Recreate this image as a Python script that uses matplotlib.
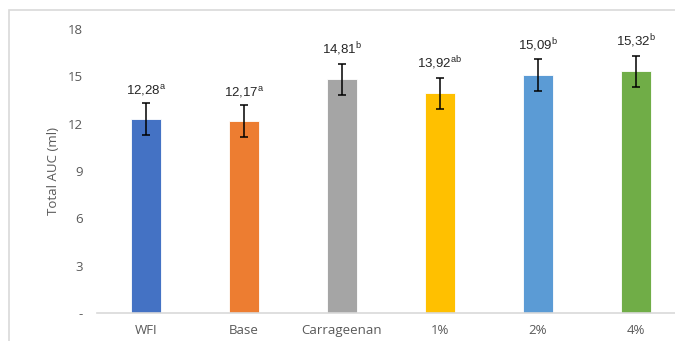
import matplotlib.pyplot as plt
from matplotlib.patches import Rectangle

# Data
groups = ['WFI', 'Base', 'Carrageenan', '1%', '2%', '4%']
auc = [12.28, 12.17, 14.81, 13.92, 15.09, 15.32]
err = [1.0, 1.0, 1.0, 1.0, 1.0, 1.0]
letters = ['a', 'a', 'b', 'ab', 'b', 'b']
colors = ['#4472C4', '#ED7D31', '#A5A5A5', '#FFC000', '#5B9BD5', '#70AD47']
yticks = [0, 3, 6, 9, 12, 15, 18]

plt.rcParams['mathtext.fontset'] = 'custom'
plt.rcParams['mathtext.rm'] = 'Liberation Sans'

fig = plt.figure(figsize=(6.75, 3.41), dpi=100)
ax = fig.add_axes([97 / 675, 28 / 341, 578 / 675, 284 / 341])

x = range(len(groups))
ax.bar(x, auc, width=0.31, color=colors, edgecolor='white', linewidth=0.6, zorder=2)
ax.errorbar(x, auc, yerr=err, fmt='none', ecolor='black', elinewidth=1.1,
            capsize=2.6, capthick=1.1, zorder=3)

# Value labels with significance letters
for i, (v, e, l) in enumerate(zip(auc, err, letters)):
    txt = f"{v:.2f}".replace('.', ',') + r"$^{\mathrm{" + l + "}}$"
    ax.annotate(txt, (i, v + e), xytext=(0, 4), textcoords='offset points',
                ha='center', va='bottom', fontsize=9.5, color='#262626',
                family='Liberation Sans')

ax.set_xlim(-0.5, 5.398)
ax.set_ylim(0, 18)
ax.set_xticks(list(x))
ax.set_xticklabels(groups, fontsize=9.5, color='#595959', family='Open Sans')
ax.set_yticks(yticks)
ax.set_yticklabels(['-' if t == 0 else str(t) for t in yticks], fontsize=9.5,
                   color='#595959', family='Open Sans')
ax.tick_params(axis='both', length=0)
ax.tick_params(axis='x', pad=8)
ax.tick_params(axis='y', pad=10)
ax.set_ylabel('Total AUC (ml)', fontsize=9.5, color='#595959', family='Open Sans', labelpad=6)

for s in ['top', 'right', 'left']:
    ax.spines[s].set_visible(False)
ax.spines['bottom'].set_color('#D9D9D9')
ax.spines['bottom'].set_linewidth(1.2)

# Chart-area frame (only top and left edges are inside the picture)
fig.patches.append(Rectangle((9 / 675, -0.1), 1.2, (331 / 341) + 0.1, transform=fig.transFigure,
                             fill=False, edgecolor='#D9D9D9', linewidth=1.2))

fig.savefig('out.png', dpi=100)
